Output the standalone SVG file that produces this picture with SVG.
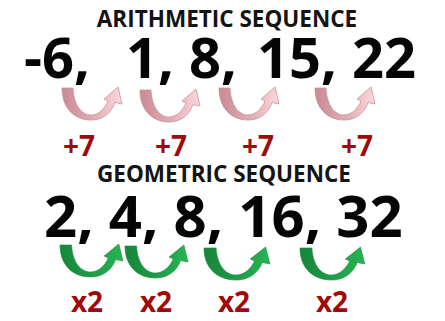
<svg xmlns="http://www.w3.org/2000/svg" width="445" height="321" viewBox="0 0 445 321">
<style>
.title{font-family:"Open Sans","Liberation Sans",sans-serif;font-weight:700;font-size:22.5px;fill:#141414;text-anchor:middle}
.num{font-family:"Open Sans","Liberation Sans",sans-serif;font-weight:700;font-size:56px;fill:#050505}
.lbl{font-family:"Open Sans","Liberation Sans",sans-serif;font-weight:700;font-size:28px;fill:#a00a0a;text-anchor:middle}
.pink{fill:url(#gPink);stroke:#c9939b;stroke-width:0.8}
.green{fill:url(#gGreen);stroke:#1b8a40;stroke-width:0.6}
</style>
<defs>
<linearGradient id="gPink" x1="0" y1="0" x2="1" y2="0">
<stop offset="0" stop-color="#c98a94"/>
<stop offset="0.5" stop-color="#e0abb2"/>
<stop offset="1" stop-color="#fcd8dc"/>
</linearGradient>
<linearGradient id="gGreen" x1="0" y1="0" x2="1" y2="0">
<stop offset="0" stop-color="#17863a"/>
<stop offset="0.5" stop-color="#1d9c48"/>
<stop offset="1" stop-color="#27b552"/>
</linearGradient>
<path id="arr" d="M0,0 L11,0 C12,18 20,27 29,27 C37,27 43,20 46,13 L42,11 L56,-1 L60,16 L53,14.5 C49,26 40,32 29,32 C12,32 0,20 0,0 Z"/>
</defs>
<g id="arithmetic-title"><text class="title" x="227" y="27">ARITHMETIC SEQUENCE</text></g>
<g id="arithmetic-terms">
<text class="num" x="24" y="78">-6,</text>
<text class="num" x="126" y="78">1,</text>
<text class="num" x="189" y="78">8,</text>
<text class="num" x="257" y="78">15,</text>
<text class="num" x="352" y="78">22</text>
</g>
<g id="connectors">
<use href="#arr" class="pink" transform="translate(62,88)"/>
<use href="#arr" class="pink" transform="translate(140,90)"/>
<use href="#arr" class="pink" transform="translate(219,88)"/>
<use href="#arr" class="pink" transform="translate(315,88)"/>
<use href="#arr" class="green" transform="translate(60,245) scale(1.05,1)"/>
<use href="#arr" class="green" transform="translate(125,246) scale(1.05,1)"/>
<use href="#arr" class="green" transform="translate(204,248) scale(1.1,1)"/>
<use href="#arr" class="green" transform="translate(300,248) scale(1.08,1)"/>
</g>
<g id="arithmetic-labels">
<text class="lbl" x="79" y="156">+7</text>
<text class="lbl" x="171" y="156">+7</text>
<text class="lbl" x="258" y="156">+7</text>
<text class="lbl" x="357" y="156">+7</text>
</g>
<g id="geometric-title"><text class="title" x="224" y="182">GEOMETRIC SEQUENCE</text></g>
<g id="geometric-terms">
<text class="num" x="44" y="237" style="font-size:58px">2, 4, 8, 16, 32</text>
</g>
<g id="geometric-labels">
<text class="lbl" x="87" y="312">x2</text>
<text class="lbl" x="156" y="312">x2</text>
<text class="lbl" x="234" y="312">x2</text>
<text class="lbl" x="332" y="312">x2</text>
</g>
</svg>
